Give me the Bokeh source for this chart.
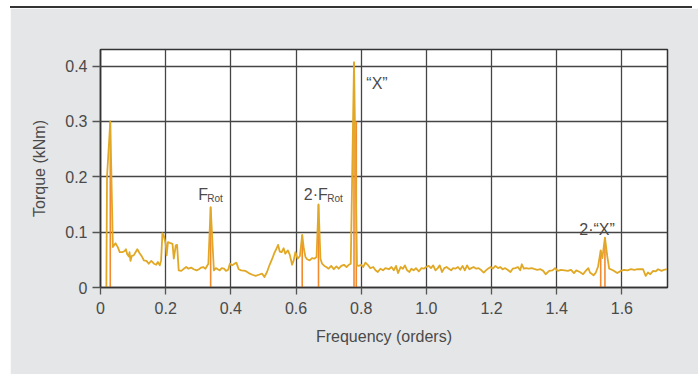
from bokeh.plotting import figure
from bokeh.models import Range1d, FixedTicker, Div
from bokeh.layouts import column
from bokeh.core.properties import value
from bokeh.embed import file_html
from bokeh.resources import INLINE

# ---- data ----
freq = [0.018, 0.020, 0.030, 0.038, 0.046, 0.053, 0.059, 0.068, 0.074, 0.078,
        0.082, 0.087, 0.089, 0.092, 0.096, 0.102, 0.108, 0.113, 0.120, 0.126,
        0.133, 0.141, 0.148, 0.156, 0.164, 0.171, 0.176, 0.182, 0.186, 0.190,
        0.194, 0.200, 0.203, 0.207, 0.215, 0.221, 0.225, 0.231, 0.235, 0.240,
        0.248, 0.256, 0.263, 0.270, 0.278, 0.286, 0.295, 0.302, 0.309, 0.315,
        0.322, 0.331, 0.338, 0.348, 0.354, 0.360, 0.366, 0.372, 0.379, 0.385,
        0.392, 0.397, 0.404, 0.411, 0.417, 0.424, 0.432, 0.445, 0.455, 0.466,
        0.476, 0.486, 0.496, 0.503, 0.511, 0.519, 0.527, 0.534, 0.540, 0.545,
        0.550, 0.556, 0.562, 0.567, 0.575, 0.581, 0.588, 0.593, 0.598, 0.605,
        0.612, 0.619, 0.624, 0.629, 0.634, 0.642, 0.649, 0.656, 0.663, 0.669,
        0.675, 0.680, 0.687, 0.693, 0.700, 0.708, 0.716, 0.724, 0.731, 0.739,
        0.747, 0.755, 0.762, 0.768, 0.778, 0.787, 0.792, 0.800, 0.806, 0.813,
        0.820, 0.828, 0.837, 0.844, 0.851, 0.859, 0.867, 0.874, 0.885, 0.893,
        0.900, 0.907, 0.913, 0.921, 0.928, 0.934, 0.941, 0.948, 0.954, 0.961,
        0.968, 0.977, 0.985, 0.992, 0.999, 1.007, 1.014, 1.021, 1.028, 1.035,
        1.041, 1.048, 1.055, 1.062, 1.069, 1.076, 1.082, 1.089, 1.097, 1.104,
        1.111, 1.118, 1.125, 1.132, 1.138, 1.145, 1.153, 1.160, 1.169, 1.176,
        1.183, 1.189, 1.197, 1.204, 1.212, 1.220, 1.227, 1.234, 1.242, 1.251,
        1.258, 1.265, 1.273, 1.281, 1.288, 1.293, 1.299, 1.306, 1.314, 1.324,
        1.333, 1.340, 1.350, 1.359, 1.366, 1.377, 1.387, 1.395, 1.403, 1.413,
        1.424, 1.434, 1.444, 1.453, 1.460, 1.471, 1.481, 1.489, 1.497, 1.502,
        1.513, 1.520, 1.527, 1.535, 1.540, 1.548, 1.555, 1.561, 1.569, 1.576,
        1.586, 1.596, 1.607, 1.617, 1.628, 1.638, 1.649, 1.659, 1.665, 1.673,
        1.680, 1.687, 1.696, 1.704, 1.711, 1.722, 1.729, 1.738]
torque = [0.000, 0.200, 0.300, 0.073, 0.080, 0.073, 0.064, 0.064, 0.066, 0.069,
          0.060, 0.056, 0.064, 0.048, 0.057, 0.058, 0.064, 0.069, 0.062, 0.057,
          0.049, 0.048, 0.043, 0.048, 0.043, 0.041, 0.046, 0.040, 0.049, 0.098,
          0.094, 0.079, 0.058, 0.082, 0.080, 0.079, 0.052, 0.076, 0.077, 0.031,
          0.030, 0.034, 0.037, 0.034, 0.036, 0.033, 0.031, 0.033, 0.036, 0.037,
          0.034, 0.043, 0.145, 0.031, 0.035, 0.033, 0.031, 0.035, 0.034, 0.030,
          0.032, 0.043, 0.040, 0.043, 0.045, 0.033, 0.031, 0.030, 0.026, 0.023,
          0.021, 0.023, 0.025, 0.019, 0.028, 0.041, 0.052, 0.063, 0.070, 0.077,
          0.065, 0.064, 0.071, 0.061, 0.067, 0.059, 0.041, 0.049, 0.064, 0.052,
          0.057, 0.095, 0.070, 0.055, 0.051, 0.049, 0.053, 0.052, 0.055, 0.150,
          0.052, 0.043, 0.039, 0.037, 0.034, 0.039, 0.033, 0.038, 0.034, 0.039,
          0.041, 0.037, 0.041, 0.043, 0.407, 0.040, 0.039, 0.041, 0.037, 0.045,
          0.041, 0.035, 0.037, 0.031, 0.028, 0.034, 0.031, 0.035, 0.033, 0.037,
          0.031, 0.039, 0.026, 0.037, 0.034, 0.040, 0.031, 0.028, 0.034, 0.031,
          0.035, 0.029, 0.035, 0.034, 0.037, 0.039, 0.035, 0.040, 0.031, 0.035,
          0.040, 0.028, 0.035, 0.037, 0.034, 0.031, 0.035, 0.034, 0.037, 0.032,
          0.039, 0.031, 0.040, 0.033, 0.035, 0.037, 0.034, 0.035, 0.031, 0.027,
          0.031, 0.034, 0.037, 0.034, 0.039, 0.035, 0.037, 0.033, 0.035, 0.031,
          0.028, 0.034, 0.035, 0.037, 0.031, 0.042, 0.034, 0.035, 0.034, 0.035,
          0.033, 0.032, 0.033, 0.030, 0.024, 0.030, 0.031, 0.035, 0.030, 0.032,
          0.031, 0.030, 0.032, 0.026, 0.031, 0.028, 0.024, 0.030, 0.035, 0.027,
          0.022, 0.027, 0.038, 0.067, 0.053, 0.090, 0.057, 0.034, 0.032, 0.030,
          0.026, 0.030, 0.032, 0.031, 0.033, 0.032, 0.033, 0.033, 0.033, 0.021,
          0.027, 0.024, 0.030, 0.029, 0.033, 0.030, 0.032, 0.033]

# identified peaks (orange stems)
peak_freq = [0.030, 0.338, 0.619, 0.669, 0.778, 0.785, 1.535, 1.548]
peak_torque = [0.300, 0.145, 0.095, 0.150, 0.407, 0.300, 0.067, 0.090]

x_ticks = [0, 0.2, 0.4, 0.6, 0.8, 1.0, 1.2, 1.4, 1.6]
x_tick_labels = ["0", "0.2", "0.4", "0.6", "0.8", "1.0", "1.2", "1.4", "1.6"]
y_ticks = [0, 0.1, 0.2, 0.3, 0.4]
y_tick_labels = ["0", "0.1", "0.2", "0.3", "0.4"]

x_title = "Frequency (orders)"
y_title = "Torque (kNm)"

FONT = "Liberation Sans"
BG = "#e5e6e7"
TXT = "#4a4a4a"
GRID = "#454545"
YELLOW = "#e1a825"
ORANGE = "#f28a2e"

p = figure(width=688, height=366,
           x_range=Range1d(0, 1.74), y_range=Range1d(0, 0.43),
           output_backend="svg", toolbar_location=None,
           min_border_left=90, min_border_right=31,
           min_border_top=41, min_border_bottom=87,
           margin=(0, 0, 0, 10))
p.background_fill_color = "white"
p.border_fill_color = BG
p.outline_line_color = "#333333"
p.outline_line_width = 1.5

# grid
p.xgrid.ticker = FixedTicker(ticks=x_ticks)
p.ygrid.ticker = FixedTicker(ticks=y_ticks)
for g in (p.xgrid, p.ygrid):
    g.grid_line_color = GRID
    g.grid_line_width = 1.3

# axes
p.xaxis.ticker = FixedTicker(ticks=x_ticks)
p.yaxis.ticker = FixedTicker(ticks=y_ticks)
p.xaxis.major_label_overrides = dict(zip(x_ticks, x_tick_labels))
p.yaxis.major_label_overrides = dict(zip(y_ticks, y_tick_labels))
for ax in (p.xaxis, p.yaxis):
    ax.axis_line_color = "#333333"
    ax.axis_line_width = 1.5
    ax.major_tick_line_color = "#555555"
    ax.major_tick_line_width = 1.3
    ax.major_tick_in = 0
    ax.minor_tick_line_color = None
    ax.major_label_text_font = FONT
    ax.major_label_text_font_size = "16px"
    ax.major_label_text_color = TXT
    ax.axis_label_text_font = FONT
    ax.axis_label_text_font_size = "16px"
    ax.axis_label_text_color = TXT
    ax.axis_label_text_font_style = "normal"
p.xaxis.major_tick_out = 7
p.yaxis.major_tick_out = 8
p.xaxis.major_label_standoff = 7
p.yaxis.major_label_standoff = 5
p.xaxis.axis_label = x_title
p.yaxis.axis_label = y_title
p.xaxis.axis_label_standoff = 11
p.yaxis.axis_label_standoff = 14

# stems and spectrum
p.segment(x0=peak_freq, y0=[0] * len(peak_freq), x1=peak_freq, y1=peak_torque,
          line_color=ORANGE, line_width=1.6)
p.line(freq, torque, line_color=YELLOW, line_width=1.8, line_join="round")

# annotations anchored at the peaks
def label(xv, yv, txt, dx, dy, size="16px"):
    p.text(x=[xv], y=[yv], text=[txt], x_offset=dx, y_offset=dy,
           text_font=value(FONT), text_font_size=size, text_color=TXT,
           text_align="left", text_baseline="alphabetic")

label(peak_freq[1], peak_torque[1], "F", -12.4, -12.8)
label(peak_freq[1], peak_torque[1], "Rot", -3.4, -8.8, "10px")
label(peak_freq[3], peak_torque[3], "2\u00b7F", -14.7, -10)
label(peak_freq[3], peak_torque[3], "Rot", 8.7, -6, "10px")
label(peak_freq[4], peak_torque[4], "\u201cX\u201d", 12.3, 21.4)
label(peak_freq[7], peak_torque[7], "2\u00b7\u201cX\u201d", -25.7, -8.3)

topline = Div(text="", width=682, height=2, margin=(6, 0, 0, 10),
              styles={"background-color": "#333333"})
layout = column(topline, p, spacing=0)

open("out.html", "w").write(file_html(layout, INLINE))
